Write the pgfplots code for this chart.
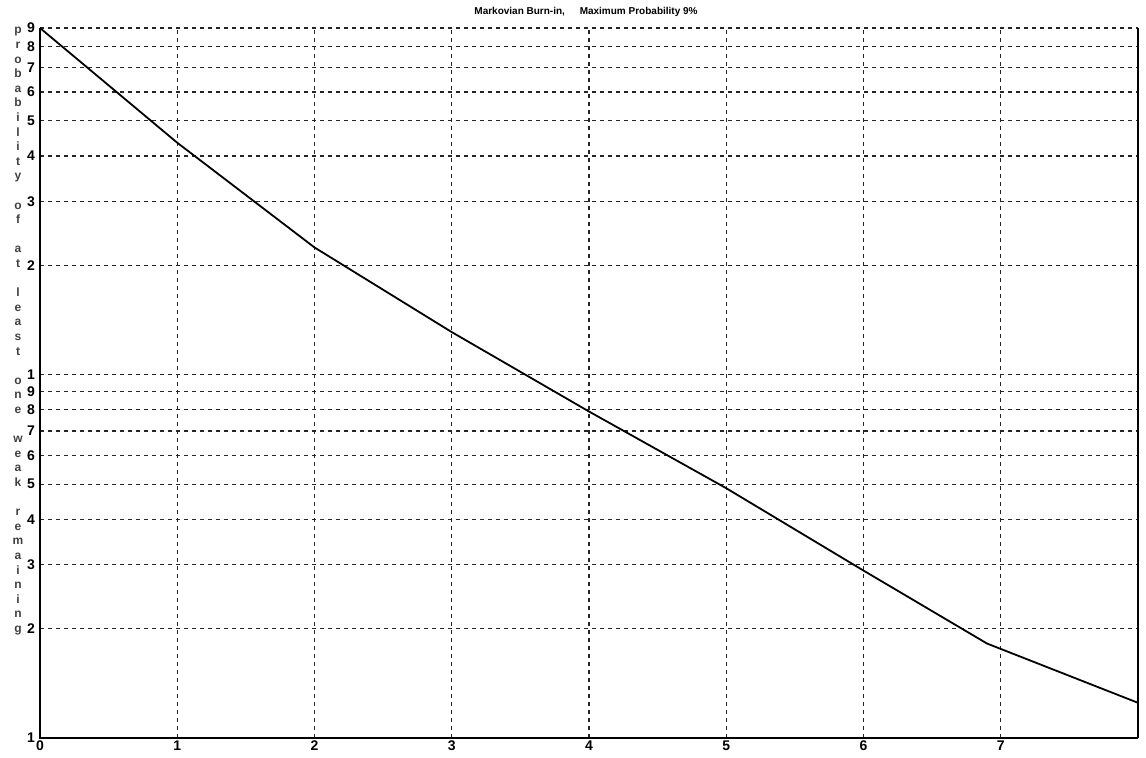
\documentclass[border=0pt]{standalone}
\usepackage{pgfplots}
\pgfplotsset{compat=1.18}
\usepackage{fontspec}
\setmainfont{Liberation Sans}
\begin{document}
\begin{tikzpicture}
\path[use as bounding box] (0,0) rectangle (573pt,378.5pt);
\begin{axis}[
  at={(20pt,9.5pt)}, anchor=south west,
  scale only axis, width=549pt, height=355pt,
  ymode=log, xmin=0, xmax=8, ymin=0.1, ymax=9,
  xtick={0,1,2,3,4,5,6,7},
  ytick={0.1,0.2,0.3,0.4,0.5,0.6,0.7,0.8,0.9,1,2,3,4,5,6,7,8,9},
  yticklabels={1,2,3,4,5,6,7,8,9,1,2,3,4,5,6,7,8,9},
  minor ytick={},
  log basis y=10,
  major tick length=0pt,
  grid=major,
  major grid style={black!85, line width=0.55pt, dash pattern=on 2pt off 2pt},
  axis line style={draw=none},
  tick label style={font=\fontsize{7}{8}\selectfont\bfseries},
  /pgf/number format/assume math mode=true,
  yticklabel style={xshift=1pt},
  xticklabel style={yshift=2pt},
  clip=false,
]
\addplot[black, line width=0.9pt] coordinates {
  (0,9) (1,4.35) (2,2.24) (3,1.31) (4,0.792) (5,0.487) (6,0.289) (6.9,0.182) (8,0.125)
};
\draw[black, line width=1.1pt] (rel axis cs:0,1) -- (rel axis cs:0,0) -- (rel axis cs:1,0);
\draw[black, line width=0.7pt] (rel axis cs:1,0) -- (rel axis cs:1,1);
\end{axis}
\node[anchor=center, font=\fontsize{5}{6}\selectfont\bfseries] at (293pt,372.5pt)
  {Markovian Burn-in,\hspace{6pt} Maximum Probability 9\%};
\node[anchor=north, inner sep=0pt, align=center, text=black!75,
  font=\fontsize{6}{7.3}\selectfont\bfseries] at (9pt,365pt)
  {p\\r\\o\\b\\a\\b\\i\\l\\i\\t\\y\\\mbox{}\\o\\f\\\mbox{}\\a\\t\\\mbox{}\\l\\e\\a\\s\\t\\\mbox{}\\o\\n\\e\\\mbox{}\\w\\e\\a\\k\\\mbox{}\\r\\e\\m\\a\\i\\n\\i\\n\\g};
\end{tikzpicture}
\end{document}
